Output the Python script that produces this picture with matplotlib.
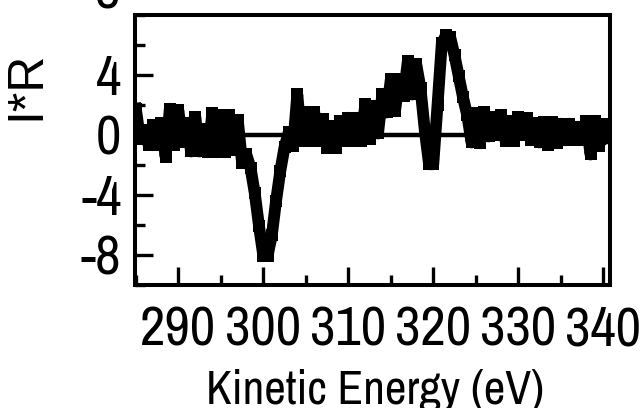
import matplotlib
matplotlib.use("Agg")
import matplotlib.pyplot as plt
from matplotlib.ticker import MultipleLocator
from matplotlib import font_manager

# spectrum, 0.5 eV steps
energy = [285.0, 285.5, 286.0, 286.5, 287.0, 287.5, 288.0, 288.5, 289.0, 289.5,
          290.0, 290.5, 291.0, 291.5, 292.0, 292.5, 293.0, 293.5, 294.0, 294.5,
          295.0, 295.5, 296.0, 296.5, 297.0, 297.5, 298.0, 298.5, 299.0, 299.5,
          300.0, 300.5, 301.0, 301.5, 302.0, 302.5, 303.0, 303.5, 304.0, 304.5,
          305.0, 305.5, 306.0, 306.5, 307.0, 307.5, 308.0, 308.5, 309.0, 309.5,
          310.0, 310.5, 311.0, 311.5, 312.0, 312.5, 313.0, 313.5, 314.0, 314.5,
          315.0, 315.5, 316.0, 316.5, 317.0, 317.5, 318.0, 318.5, 319.0, 319.5,
          320.0, 320.5, 321.0, 321.5, 322.0, 322.5, 323.0, 323.5, 324.0, 324.5,
          325.0, 325.5, 326.0, 326.5, 327.0, 327.5, 328.0, 328.5, 329.0, 329.5,
          330.0, 330.5, 331.0, 331.5, 332.0, 332.5, 333.0, 333.5, 334.0, 334.5,
          335.0, 335.5, 336.0, 336.5, 337.0, 337.5, 338.0, 338.5, 339.0, 339.5,
          340.0, 340.5]
intensity = [1.75, -0.25, 0.3, -0.65, 0.65, -0.65, 0.8, -1.45, 1.75, -0.65,
             1.65, -0.45, 0.8, -1.1, 1.2, -1.1, 0.4, -1.15, 1.45, -1.15,
             1.3, -1.15, 1.3, -1.0, 1.0, -1.85, -1.3, -2.2, -3.9, -6.1,
             -8.05, -8.05, -6.7, -4.4, -2.4, -0.8, 0.2, -0.75, 2.7, -0.4,
             1.5, -0.4, 1.5, -0.4, 1.05, -0.85, 0.6, -0.85, 0.9, -0.4,
             1.15, -0.4, 1.15, -0.4, 2.05, -0.25, 1.95, 0.1, 2.7, 1.5,
             3.7, 1.6, 3.7, 2.6, 4.9, 2.7, 4.7, 3.1, 0.3, -1.95,
             -1.95, 2.0, 6.1, 6.65, 6.5, 5.3, 3.9, 2.5, 1.3, -0.5,
             1.45, -0.55, 1.5, -0.1, 1.2, 0.0, 1.3, -0.4, 0.9, -0.4,
             1.2, 0.0, 1.1, -0.35, 0.8, -0.5, 0.85, -0.65, 0.85, -0.55,
             0.75, -0.35, 0.75, -0.35, 0.55, -0.35, 0.9, -1.3, 0.95, -0.75,
             0.7, -0.2]

ytick_vals = [-8, -4, 0, 4]
ytick_labels = ['-8', '-4', '0', '4']
xtick_vals = [290, 300, 310, 320, 330, 340]

names = {f.name for f in font_manager.fontManager.ttflist}
narrow = next((n for n in ['Archivo Narrow', 'PT Sans Narrow', 'Roboto Condensed']
               if n in names), 'Liberation Sans')

fig = plt.figure(figsize=(6.41, 4.08), dpi=100)
ax = fig.add_axes([0.2111, 0.3015, 0.7405, 0.6618])

ax.axhline(0, color='black', lw=3.2, zorder=1)
ax.plot(energy, intensity, color='black', lw=8.5, marker='s', ms=9, mew=0,
        solid_joinstyle='round', zorder=2)

ax.set_xlim(284.94, 340.79)
ax.set_ylim(-10, 8)
ax.set_xticks(xtick_vals)
ax.xaxis.set_minor_locator(MultipleLocator(5))
ax.set_yticks(ytick_vals)
ax.set_yticklabels(ytick_labels)
ax.yaxis.set_minor_locator(MultipleLocator(2))

ax.tick_params(which='both', direction='in', top=False, right=False,
               width=2.4, labelsize=40, color='black')
ax.tick_params(axis='y', which='major', length=13, pad=10)
ax.tick_params(axis='x', which='major', length=13, pad=15)
ax.tick_params(which='minor', length=7.2)
for lab in ax.get_xticklabels() + ax.get_yticklabels():
    lab.set_fontfamily(narrow)
for sp in ax.spines.values():
    sp.set_linewidth(2.9)

# top tick label, mostly cut off by the figure edge
fig.text(120 / 641, 1 + 12 / 408, '8', ha='right', va='center_baseline',
         fontsize=40, family=narrow)

fig.text(375 / 641, 4 / 408, 'Kinetic Energy (eV)', ha='center', va='baseline',
         fontsize=34, family=narrow)
fig.text(26 / 641, 1 - 85 / 408, 'I*R', rotation=90, ha='center', va='center',
         fontsize=36, family='Liberation Sans')

fig.savefig('out.png', dpi=100)
